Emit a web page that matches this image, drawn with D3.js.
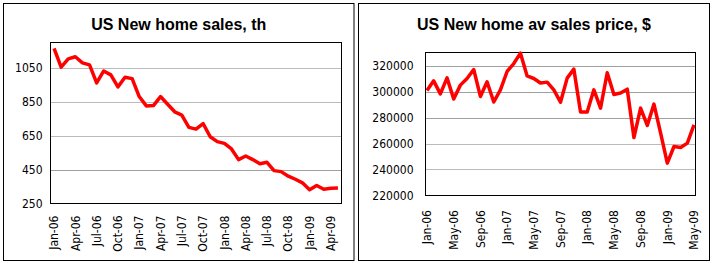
<!DOCTYPE html>
<html>
<head>
<meta charset="utf-8">
<script src="https://cdn.jsdelivr.net/npm/d3@7"></script>
<style>
  body { margin: 0; background: #fff; }
  svg { display: block; }
  .tick-label { font-family: "DejaVu Sans Condensed", "DejaVu Sans", sans-serif; font-size: 12px; fill: #000; }
  .title { font-family: "Liberation Sans", Arial, sans-serif; font-weight: bold; font-size: 16px; fill: #000; }
</style>
</head>
<body>
<div class="box"></div>
<script>
// months Jan-06 .. May-09
var months = ["Jan-06","Feb-06","Mar-06","Apr-06","May-06","Jun-06","Jul-06","Aug-06","Sep-06","Oct-06","Nov-06","Dec-06",
              "Jan-07","Feb-07","Mar-07","Apr-07","May-07","Jun-07","Jul-07","Aug-07","Sep-07","Oct-07","Nov-07","Dec-07",
              "Jan-08","Feb-08","Mar-08","Apr-08","May-08","Jun-08","Jul-08","Aug-08","Sep-08","Oct-08","Nov-08","Dec-08",
              "Jan-09","Feb-09","Mar-09","Apr-09","May-09"];

// new home sales, thousands (saar)
var salesValues = [1165, 1055, 1103, 1116, 1080, 1068, 962, 1032, 1009, 938, 995, 987,
                   881, 826, 828, 881, 836, 791, 772, 699, 689, 722, 644, 615,
                   605, 572, 509, 530, 509, 485, 493, 444, 438, 411, 393, 372,
                   331, 356, 334, 340, 342];

// average sales price, $
var priceValues = [300800, 308200, 298200, 310500, 294200, 304900, 310000, 316900, 296200, 307500, 291900, 301300,
                   315400, 321500, 329500, 312000, 310000, 306500, 307200, 301300, 291800, 310300, 317200, 284200,
                   284200, 301300, 287200, 314400, 297700, 298800, 301800, 264600, 287200, 273900, 290300, 268000,
                   244900, 257700, 256900, 260300, 274400];

var salesTicks = [250, 450, 650, 850, 1050];
var priceTicks = [220000, 240000, 260000, 280000, 300000, 320000];

var width = 713, height = 263;

var svg = d3.select(".box").append("svg")
    .attr("width", width)
    .attr("height", height);

svg.append("rect").attr("width", width).attr("height", height).attr("fill", "#fff");

function drawPanel(cfg) {
    var g = svg.append("g");

    // outer chart border
    g.append("rect")
        .attr("x", cfg.box[0]).attr("y", cfg.box[1])
        .attr("width", cfg.box[2]).attr("height", cfg.box[3])
        .attr("fill", "#fff").attr("stroke", "#000").attr("stroke-width", 1);

    g.append("text")
        .attr("class", "title")
        .attr("x", cfg.box[0] + cfg.box[2] / 2)
        .attr("y", 30)
        .attr("text-anchor", "middle")
        .text(cfg.title);

    var p = cfg.plot;
    var y = d3.scaleLinear().domain(cfg.domain).range([p.bottom, p.top]);
    var x = cfg.x;

    // gridlines
    g.append("g")
        .selectAll("line")
        .data(cfg.ticks.filter(t => t !== cfg.domain[0]))
        .join("line")
        .attr("x1", p.left).attr("x2", p.right)
        .attr("y1", d => Math.round(y(d)) + 0.5)
        .attr("y2", d => Math.round(y(d)) + 0.5)
        .attr("stroke", d => cfg.dotted.indexOf(d) >= 0 ? "#777" : "#a0a0a0")
        .attr("stroke-dasharray", d => cfg.dotted.indexOf(d) >= 0 ? "1,1" : null);

    // plot border
    g.append("rect")
        .attr("x", p.left).attr("y", p.top)
        .attr("width", p.right - p.left).attr("height", p.bottom - p.top)
        .attr("fill", "none").attr("stroke", "#000");

    // y labels
    g.append("g")
        .selectAll("text")
        .data(cfg.ticks)
        .join("text")
        .attr("class", "tick-label")
        .attr("x", p.left - cfg.yLabelGap)
        .attr("y", d => y(d))
        .attr("dy", "0.35em")
        .attr("text-anchor", "end")
        .text(d => d);

    // x labels, rotated
    g.append("g")
        .selectAll("text")
        .data(months.filter((m, i) => i % cfg.every === 0))
        .join("text")
        .attr("class", "tick-label")
        .attr("text-anchor", "end")
        .attr("dy", "0.35em")
        .attr("transform", d => `translate(${cfg.xPos(d)},${p.bottom + cfg.xLabelGap}) rotate(-90)`)
        .text(d => d);

    // line
    g.append("path")
        .datum(cfg.values)
        .attr("fill", "none")
        .attr("stroke", "#ff0000")
        .attr("stroke-width", 3.5)
        .attr("stroke-linejoin", "round")
        .attr("d", d3.line()
            .x((d, i) => cfg.xPos(months[i]))
            .y(d => y(d)));
}

// left chart: category axis between tick marks
var xSales = d3.scaleBand().domain(months).range([50.5, 341.5]);
drawPanel({
    box: [3.5, 3.5, 350.5, 257],
    title: "US New home sales, th",
    plot: { left: 50.5, right: 341.5, top: 42.5, bottom: 203.5 },
    domain: [250, 1200],
    ticks: salesTicks,
    dotted: [650, 850, 1050],
    values: salesValues,
    x: xSales,
    xPos: m => xSales(m) + xSales.bandwidth() / 2,
    every: 3,
    yLabelGap: 8,
    xLabelGap: 12
});

// right chart: points on tick marks
var xPrice = d3.scalePoint().domain(months).range([427, 694]);
drawPanel({
    box: [358.5, 3.5, 351, 257],
    title: "US New home av sales price, $",
    plot: { left: 425.5, right: 695.5, top: 52.5, bottom: 195.5 },
    domain: [220000, 330000],
    ticks: priceTicks,
    dotted: [240000, 260000],
    values: priceValues,
    x: xPrice,
    xPos: m => xPrice(m),
    every: 4,
    yLabelGap: 12,
    xLabelGap: 14.5
});
</script>
</body>
</html>
